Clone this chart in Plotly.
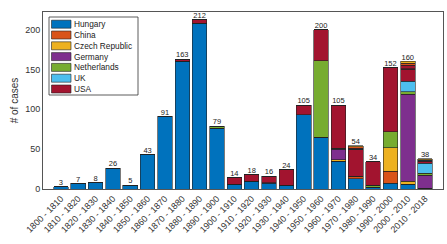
import plotly.graph_objects as go

categories = ["1800 - 1810", "1810 - 1820", "1820 - 1830", "1830 - 1840", "1840 - 1850",
              "1850 - 1860", "1860 - 1870", "1870 - 1880", "1880 - 1890", "1890 - 1900",
              "1900 - 1910", "1910 - 1920", "1920 - 1930", "1930 - 1940", "1940 - 1950",
              "1950 - 1960", "1960 - 1970", "1970 - 1980", "1980 - 1990", "1990 - 2000",
              "2000 - 2010", "2010 - 2018"]

hungary     = [3, 7, 8, 26, 5, 43, 91, 160, 207, 76, 6, 9, 7, 5, 93, 65, 35, 13, 2, 7, 6, 1]
china       = [0, 0, 0, 0, 0, 0, 0, 0, 0, 0, 0, 0, 1, 0, 0, 0, 0, 3, 0, 15, 0, 0]
czech       = [0, 0, 0, 0, 0, 0, 0, 0, 0, 0, 0, 1, 0, 0, 0, 0, 2, 0, 0, 30, 4, 0]
germany     = [0, 0, 0, 0, 0, 0, 0, 0, 0, 0, 0, 0, 0, 0, 0, 0, 13, 0, 0, 0, 109, 16]
netherlands = [0, 0, 0, 0, 0, 0, 0, 0, 1, 2, 0, 0, 0, 0, 0, 96, 1, 0, 3, 20, 3, 3]
uk          = [0, 0, 0, 0, 0, 0, 0, 0, 0, 0, 0, 0, 0, 0, 0, 0, 0, 0, 0, 0, 13, 12]
usa         = [0, 0, 0, 0, 0, 0, 0, 3, 4, 1, 8, 8, 8, 19, 12, 39, 54, 33, 29, 80, 15, 3]
# further countries not named in the legend (thin segments on top)
other_a     = [0, 0, 0, 0, 0, 0, 0, 0, 0, 0, 0, 0, 0, 0, 0, 0, 0, 1, 0, 0, 1, 1]
other_b     = [0, 0, 0, 0, 0, 0, 0, 0, 0, 0, 0, 0, 0, 0, 0, 0, 0, 1, 0, 0, 4, 1]
other_c     = [0, 0, 0, 0, 0, 0, 0, 0, 0, 0, 0, 0, 0, 0, 0, 0, 0, 2, 0, 0, 3, 0]
other_d     = [0, 0, 0, 0, 0, 0, 0, 0, 0, 0, 0, 0, 0, 0, 0, 0, 0, 1, 0, 0, 2, 1]

totals = [3, 7, 8, 26, 5, 43, 91, 163, 212, 79, 14, 18, 16, 24, 105, 200, 105, 54, 34, 152, 160, 38]
y_ticks = [0, 50, 100, 150, 200]

series = [
    ("Hungary", hungary, "#0072BD", True),
    ("China", china, "#D95319", True),
    ("Czech Republic", czech, "#EDB120", True),
    ("Germany", germany, "#7E2F8E", True),
    ("Netherlands", netherlands, "#77AC30", True),
    ("UK", uk, "#4DBEEE", True),
    ("USA", usa, "#A2142F", True),
    ("Other 1", other_a, "#0072BD", False),
    ("Other 2", other_b, "#A2142F", False),
    ("Other 3", other_c, "#D95319", False),
    ("Other 4", other_d, "#EDB120", False),
]

W, H = 447, 244
ML, MR, MT, MB = 43, 4, 12, 55
PW, PH = W - ML - MR, H - MT - MB

def px(x):
    return (x - ML) / PW

def py(y):
    return (H - MB - y) / PH

xs = list(range(len(categories)))
fig = go.Figure()
for name, vals, color, show in series:
    fig.add_trace(go.Bar(
        x=xs, y=vals, name=name, showlegend=False,
        marker=dict(color=color, line=dict(color="#222222", width=0.6)),
        width=0.84, hoverinfo="skip",
    ))

fig.add_trace(go.Scatter(
    x=xs, y=totals, mode="text", text=[str(t) for t in totals],
    textposition="top center", textfont=dict(size=7.5, color="#222222"),
    showlegend=False, cliponaxis=False, hoverinfo="skip",
))

# legend box drawn in MATLAB style (compact rows)
shapes = [dict(type="rect", xref="paper", yref="paper",
               x0=px(49), x1=px(138), y0=py(95), y1=py(17),
               fillcolor="white", line=dict(color="#333333", width=0.8), layer="above")]
annotations = []
legend_items = [(n, c) for n, _, c, s in series if s]
row0, step = 24.2, 10.8
for i, (name, color) in enumerate(legend_items):
    cy = row0 + i * step
    shapes.append(dict(type="rect", xref="paper", yref="paper",
                       x0=px(51.5), x1=px(71), y0=py(cy + 4), y1=py(cy - 4),
                       fillcolor=color, line=dict(color="#222222", width=0.6), layer="above"))
    annotations.append(dict(xref="paper", yref="paper", x=px(72), y=py(cy),
                            xanchor="left", yanchor="middle", text=name, showarrow=False,
                            font=dict(size=8.3, color="#222222")))

fig.update_layout(
    barmode="stack",
    width=W, height=H,
    margin=dict(l=ML, r=MR, t=MT, b=MB, autoexpand=False),
    paper_bgcolor="white", plot_bgcolor="white",
    font=dict(family="Liberation Sans, Arial, sans-serif", color="#333333"),
    showlegend=False,
    shapes=shapes, annotations=annotations,
    xaxis=dict(
        tickmode="array", tickvals=xs, ticktext=categories,
        tickangle=-45, tickfont=dict(size=9, color="#333333"),
        range=[-1.03, len(categories) - 1 + 1.03],
        showline=True, linecolor="#555555", linewidth=0.8, mirror=True,
        ticks="", showgrid=False, zeroline=False, automargin=False,
    ),
    yaxis=dict(
        range=[0, 222], tickvals=y_ticks,
        tickfont=dict(size=9, color="#333333"),
        title=dict(text="# of cases", font=dict(size=10, color="#333333"), standoff=4),
        showline=True, linecolor="#555555", linewidth=0.8, mirror=True,
        ticks="", showgrid=False, zeroline=False, automargin=False,
    ),
)

fig.write_html("out.html", config={"displayModeBar": False},
               post_script="document.body.style.margin='0';document.body.style.overflow='hidden';")
